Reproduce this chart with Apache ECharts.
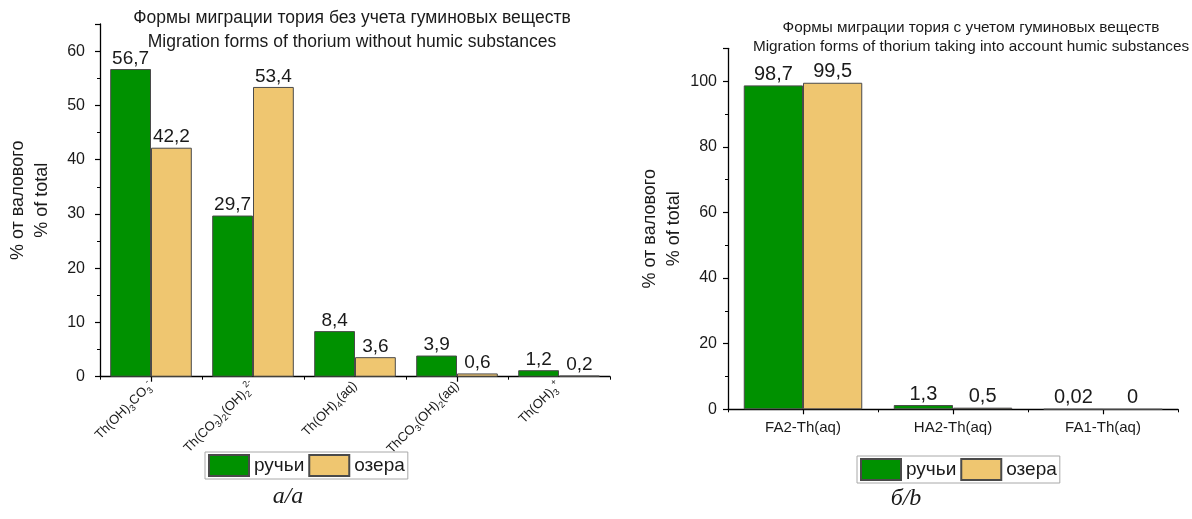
<!DOCTYPE html>
<html>
<head>
<meta charset="utf-8">
<title>Формы миграции тория</title>
<script src="https://cdn.jsdelivr.net/npm/echarts@6/dist/echarts.min.js"></script>
<style>
  html, body { margin: 0; padding: 0; background: #fff; }
  #chart { width: 1192px; height: 519px; }
</style>
</head>
<body>
<div id="chart"></div>
<script>
// Panel a: species without humic substances (rich-text markup: {s|..} subscript, {p|..} superscript)
const speciesA = [
  'Th(OH){s|3}CO{s|3}{p|-}',
  'Th(CO{s|3}){s|2}(OH){s|2}{p|2-}',
  'Th(OH){s|4}(aq)',
  'ThCO{s|3}(OH){s|2}(aq)',
  'Th(OH){s|3}{p|+}'
];
const streamsA = [56.7, 29.7, 8.4, 3.9, 1.2];
const lakesA   = [42.2, 53.4, 3.6, 0.6, 0.2];

// Panel b: species with humic substances
const speciesB = ['FA2-Th(aq)', 'HA2-Th(aq)', 'FA1-Th(aq)'];
const streamsB = [98.7, 1.3, 0.02];
const lakesB   = [99.5, 0.5, 0];

const seriesNames = ['ручьи', 'озера'];
const titleA = 'Формы миграции тория без учета гуминовых веществ\nMigration forms of thorium without humic substances';
const titleB = 'Формы миграции тория с учетом гуминовых веществ\nMigration forms of thorium taking into account humic substances';
const yName = '% от валового\n% of total';

const GREEN = '#009100';
const SAND = '#efc670';
const EDGE = '#4a4a4a';
const INK = '#1a1a1a';
const FONT = 'Liberation Sans, Arial, sans-serif';

const comma = p => String(p.value).replace('.', ',');

function barSeries(name, data, color, xi, fontSize) {
  return {
    type: 'bar', name, data,
    xAxisIndex: xi, yAxisIndex: xi,
    barGap: '0%',
    barCategoryGap: xi === 0 ? '20%' : '21%',
    itemStyle: { color, borderColor: EDGE, borderWidth: 1 },
    label: {
      show: true, position: 'top', distance: 1,
      formatter: comma, color: INK, fontSize, fontFamily: FONT
    },
    emphasis: { disabled: true },
    animation: false
  };
}

const axisLineStyle = { show: true, lineStyle: { color: '#000', width: 1.3 } };

function valueAxis(gi, max, interval, nameGap, labelMargin) {
  return {
    type: 'value', gridIndex: gi, min: 0, max, interval,
    name: yName, nameLocation: 'middle', nameGap, nameRotate: 90,
    nameTextStyle: { color: INK, fontSize: 18, lineHeight: 24, fontFamily: FONT },
    axisLine: axisLineStyle,
    axisTick: { show: true, inside: false, length: 5, lineStyle: { color: '#000', width: 1.2 } },
    minorTick: { show: true, splitNumber: 2, length: 3, lineStyle: { color: '#000', width: 1 } },
    axisLabel: { color: INK, fontSize: 16, margin: labelMargin, fontFamily: FONT, showMaxLabel: false },
    splitLine: { show: false }
  };
}

// Category axis with ticks on the category boundaries
function catAxis(gi, data, label) {
  return {
    type: 'category', gridIndex: gi, data,
    axisLine: axisLineStyle,
    axisTick: { show: true, alignWithLabel: false, length: 3, lineStyle: { color: '#000', width: 1 } },
    axisLabel: label,
    splitLine: { show: false }
  };
}

// Companion axis adding a tick under every category centre
function centreTicks(gi, data) {
  return {
    type: 'category', gridIndex: gi, data, position: 'bottom',
    axisLine: { show: false },
    axisTick: { show: true, alignWithLabel: true, length: 5, lineStyle: { color: '#000', width: 1.2 } },
    axisLabel: { show: false },
    splitLine: { show: false }
  };
}

const richSub = {
  s: { fontSize: 9, lineHeight: 9, verticalAlign: 'bottom', color: INK, fontFamily: FONT },
  p: { fontSize: 9, lineHeight: 9, verticalAlign: 'top', color: INK, fontFamily: FONT }
};

const legendBase = {
  data: seriesNames, orient: 'horizontal',
  itemWidth: 40, itemHeight: 21, itemGap: 4, padding: [2, 3, 2, 3],
  borderColor: '#a8a8a8', borderWidth: 1, icon: 'rect', selectedMode: false,
  textStyle: { color: INK, fontSize: 19, fontFamily: FONT }
};

const option = {
  backgroundColor: '#ffffff',
  animation: false,
  grid: [
    { left: 100, top: 24, width: 510, height: 352.7 },
    { left: 728, top: 48.3, width: 450, height: 361 }
  ],
  xAxis: [
    catAxis(0, speciesA, {
      rotate: 45, margin: 7, interval: 0, color: INK, fontSize: 13, lineHeight: 18,
      fontFamily: FONT, rich: richSub
    }),
    catAxis(1, speciesB, { interval: 0, margin: 11, color: INK, fontSize: 15, fontFamily: FONT }),
    centreTicks(0, speciesA),
    centreTicks(1, speciesB)
  ],
  yAxis: [
    valueAxis(0, 65, 10, 46, 15),
    valueAxis(1, 110, 20, 39, 11)
  ],
  legend: [
    Object.assign({}, legendBase, { left: 205, top: 452 }),
    Object.assign({}, legendBase, { left: 857, top: 456 })
  ],
  series: [
    barSeries(seriesNames[0], streamsA, GREEN, 0, 19),
    barSeries(seriesNames[1], lakesA, SAND, 0, 19),
    barSeries(seriesNames[0], streamsB, GREEN, 1, 20),
    barSeries(seriesNames[1], lakesB, SAND, 1, 20)
  ],
  graphic: [
    {
      type: 'text', x: 352, y: 30, silent: true,
      style: { text: titleA, fill: INK, fontSize: 17.5, lineHeight: 24, fontFamily: FONT,
               align: 'center', verticalAlign: 'middle' }
    },
    {
      type: 'text', x: 971, y: 37, silent: true,
      style: { text: titleB, fill: INK, fontSize: 15.3, lineHeight: 19, fontFamily: FONT,
               align: 'center', verticalAlign: 'middle' }
    },
    {
      type: 'text', x: 288, y: 497, silent: true,
      style: { text: 'а/a', fill: INK, fontSize: 24, fontStyle: 'italic',
               fontFamily: 'Liberation Serif, Times New Roman, serif',
               align: 'center', verticalAlign: 'middle' }
    },
    {
      type: 'text', x: 906, y: 499, silent: true,
      style: { text: 'б/b', fill: INK, fontSize: 24, fontStyle: 'italic',
               fontFamily: 'Liberation Serif, Times New Roman, serif',
               align: 'center', verticalAlign: 'middle' }
    }
  ]
};

const chart = echarts.init(document.getElementById('chart'), null, { renderer: 'canvas' });
chart.setOption(option);
</script>
</body>
</html>
